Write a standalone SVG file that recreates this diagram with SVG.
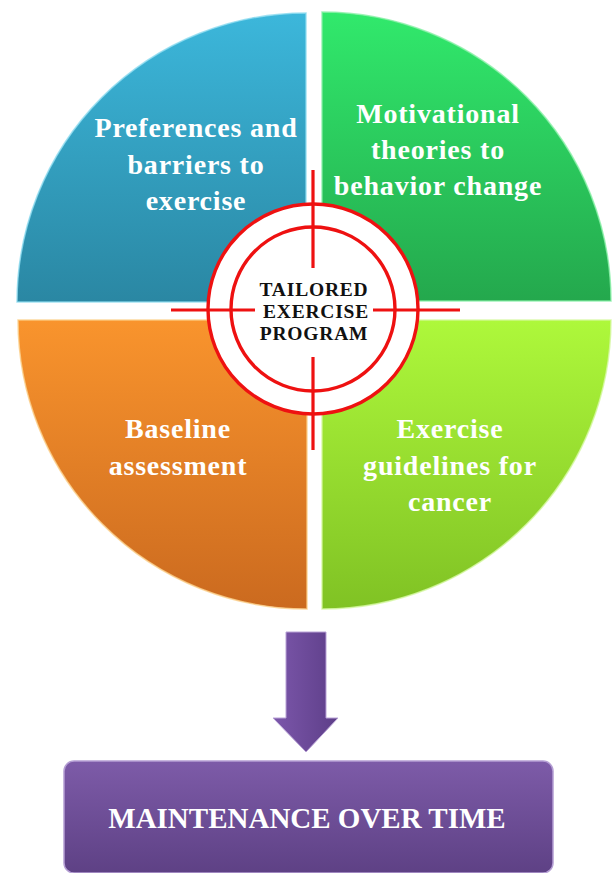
<svg xmlns="http://www.w3.org/2000/svg" width="612" height="873" viewBox="0 0 612 873">
  <defs>
    <linearGradient id="gBlue" x1="0" y1="0" x2="0" y2="1">
      <stop offset="0" stop-color="#3cb7db"/>
      <stop offset="1" stop-color="#2a87a3"/>
    </linearGradient>
    <linearGradient id="gGreen" x1="0" y1="0" x2="0" y2="1">
      <stop offset="0" stop-color="#31e96c"/>
      <stop offset="1" stop-color="#24a84d"/>
    </linearGradient>
    <linearGradient id="gOrange" x1="0" y1="0" x2="0" y2="1">
      <stop offset="0" stop-color="#f9942d"/>
      <stop offset="1" stop-color="#cb6a1f"/>
    </linearGradient>
    <linearGradient id="gLime" x1="0" y1="0" x2="0" y2="1">
      <stop offset="0" stop-color="#aef83b"/>
      <stop offset="1" stop-color="#80c224"/>
    </linearGradient>
    <linearGradient id="gArrow" x1="0" y1="0" x2="1" y2="0">
      <stop offset="0" stop-color="#7c57ab"/>
      <stop offset="1" stop-color="#5d3e88"/>
    </linearGradient>
    <linearGradient id="gBox" x1="0" y1="0" x2="0" y2="1">
      <stop offset="0" stop-color="#7d5ba8"/>
      <stop offset="1" stop-color="#5e4185"/>
    </linearGradient>
    <style>
      .quad { stroke-width: 1.5; stroke-opacity: 0.8; }
      .qtext { font-family: "Liberation Serif", "Times New Roman", serif; font-weight: bold; font-size: 28px; fill: #ffffff; text-anchor: middle; letter-spacing: 0.8px; }
      .ctext { font-family: "Liberation Serif", "Times New Roman", serif; font-weight: bold; font-size: 19.5px; fill: #111111; text-anchor: middle; letter-spacing: 0.8px; }
      .ring { fill: none; stroke: #ee1111; stroke-width: 3.4; }
      .hair { stroke: #ee1111; stroke-width: 3.2; }
      .btext { font-family: "Liberation Serif", "Times New Roman", serif; font-weight: bold; font-size: 29px; fill: #ffffff; text-anchor: middle; }
    </style>
  </defs>

  <rect width="612" height="873" fill="#ffffff"/>

  <!-- four quadrants of the wheel -->
  <g id="preferences">
    <path class="quad" d="M306,302 L17,302 A289,289 0 0 1 306,13 Z" fill="url(#gBlue)" stroke="#8fdcf0"/>
    <text class="qtext" x="196" y="137">Preferences and</text>
    <text class="qtext" x="196" y="174">barriers to</text>
    <text class="qtext" x="196" y="210">exercise</text>
  </g>

  <g id="motivational">
    <path class="quad" d="M322,301 L322,12 A289,289 0 0 1 611,301 Z" fill="url(#gGreen)" stroke="#8af0a8"/>
    <text class="qtext" x="438" y="123">Motivational</text>
    <text class="qtext" x="438" y="159">theories to</text>
    <text class="qtext" x="438" y="195">behavior change</text>
  </g>

  <g id="baseline">
    <path class="quad" d="M307,320 L307,609 A289,289 0 0 1 18,320 Z" fill="url(#gOrange)" stroke="#fbd08a"/>
    <text class="qtext" x="178" y="438">Baseline</text>
    <text class="qtext" x="178" y="475">assessment</text>
  </g>

  <g id="guidelines">
    <path class="quad" d="M322,320 L611,320 A289,289 0 0 1 322,609 Z" fill="url(#gLime)" stroke="#d4f8a0"/>
    <text class="qtext" x="450" y="438">Exercise</text>
    <text class="qtext" x="450" y="475">guidelines for</text>
    <text class="qtext" x="450" y="511">cancer</text>
  </g>

  <!-- central target -->
  <g id="target">
    <circle cx="313" cy="309" r="105" fill="#ffffff"/>
    <circle class="ring" cx="313" cy="309" r="105"/>
    <circle class="ring" cx="313" cy="309" r="82"/>
    <line class="hair" x1="313" y1="170" x2="313" y2="268"/>
    <line class="hair" x1="313" y1="357" x2="313" y2="450"/>
    <line class="hair" x1="171" y1="310" x2="255" y2="310"/>
    <line class="hair" x1="373" y1="310" x2="460" y2="310"/>
    <text class="ctext" x="314" y="296">TAILORED</text>
    <text class="ctext" x="316" y="318">EXERCISE</text>
    <text class="ctext" x="314" y="340">PROGRAM</text>
  </g>

  <!-- connector -->
  <g id="connectors">
    <path d="M286,632 L326,632 L326,718 L338,718 L306,752 L273,718 L286,718 Z" fill="url(#gArrow)" stroke="#b9a3d6" stroke-width="1"/>
  </g>

  <g id="maintenance">
    <rect x="64" y="761" width="489" height="112" rx="10" ry="10" fill="url(#gBox)" stroke="#b59fd4" stroke-width="1.5"/>
    <text class="btext" x="307" y="828">MAINTENANCE OVER TIME</text>
  </g>
</svg>
